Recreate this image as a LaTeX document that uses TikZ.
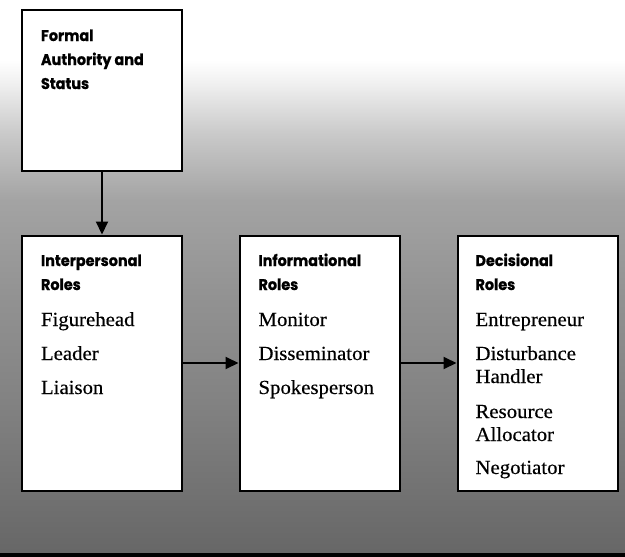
\documentclass[tikz,border=0pt]{standalone}
\usepackage{fontspec}
\setmainfont{Liberation Serif}[FakeStretch=1.04, FakeBold=0.4]
\newfontfamily\headfont{Poppins}[FakeStretch=0.93, FakeBold=0.9]
\usetikzlibrary{arrows.meta}

% paper tone: white at the top, darkening towards the bottom
\colorlet{tone0}{black!60}
\colorlet{tone1}{black!56}
\colorlet{tone2}{black!49}
\colorlet{tone3}{black!43}
\colorlet{tone4}{black!36}
\colorlet{tone5}{black!21}
\colorlet{tone6}{black!6}
\pgfdeclareverticalshading{paper}{100bp}{
  color(0bp)=(tone0); color(25bp)=(tone0); color(30bp)=(tone1);
  color(39bp)=(tone2); color(48bp)=(tone3); color(57bp)=(tone4);
  color(63bp)=(tone5); color(67.5bp)=(tone6); color(69.6bp)=(white);
  color(100bp)=(white)}

\tikzset{
  box/.style={draw=black, fill=white, line width=2pt, rectangle,
              minimum width=160pt, inner sep=0pt},
  boxtext/.style={anchor=base west, inner sep=0pt, outer sep=0pt},
  conn/.style={line width=2pt, -{Triangle[length=13pt,width=12pt]}},
}
\newcommand{\hd}{\headfont\bfseries\fontsize{15.5}{24}\selectfont}
\newcommand{\bd}{\par\normalfont\rmfamily\fontsize{20}{23}\selectfont\vspace{13pt}}
\newcommand{\cell}[1]{\parbox[t]{135pt}{\raggedright #1}}

\begin{document}
\begin{tikzpicture}[x=1pt,y=-1pt]
  \useasboundingbox (0,0) rectangle (625,557);
  \shade[shading=paper] (0,0) rectangle (625,557);
  \fill[black] (0,553) rectangle (625,557);

  % the four boxes
  \node[box, minimum height=161pt] (fa)  at (102,90.5) {};
  \node[box, minimum height=255pt] (ip)  at (102,363) {};
  \node[box, minimum height=255pt] (inf) at (319.5,363) {};
  \node[box, minimum height=255pt] (dec) at (537.5,363) {};

  % their texts
  \node[boxtext] (faT) at ([xshift=20pt,yshift=-32pt]fa.north west)
    {\cell{\hd Formal\\Authority and\\Status}};
  \node[boxtext] (ipT) at ([xshift=20pt,yshift=-31.5pt]ip.north west)
    {\cell{\hd Interpersonal\\Roles\bd
      Figurehead\\[11pt]Leader\\[11pt]Liaison}};
  \node[boxtext] (infT) at ([xshift=20pt,yshift=-31.5pt]inf.north west)
    {\cell{\hd Informational\\Roles\bd
      Monitor\\[11pt]Disseminator\\[11pt]Spokesperson}};
  \node[boxtext] (decT) at ([xshift=19pt,yshift=-31.5pt]dec.north west)
    {\cell{\hd Decisional\\Roles\bd
      Entrepreneur\\[11pt]Disturbance\\Handler\\[12pt]Resource\\Allocator\\[10pt]Negotiator}};

  % connectors
  \draw[conn] (fa.south) -- (ip.north);
  \draw[conn] (ip.east) -- (inf.west);
  \draw[conn] (inf.east) -- (dec.west);
\end{tikzpicture}
\end{document}
